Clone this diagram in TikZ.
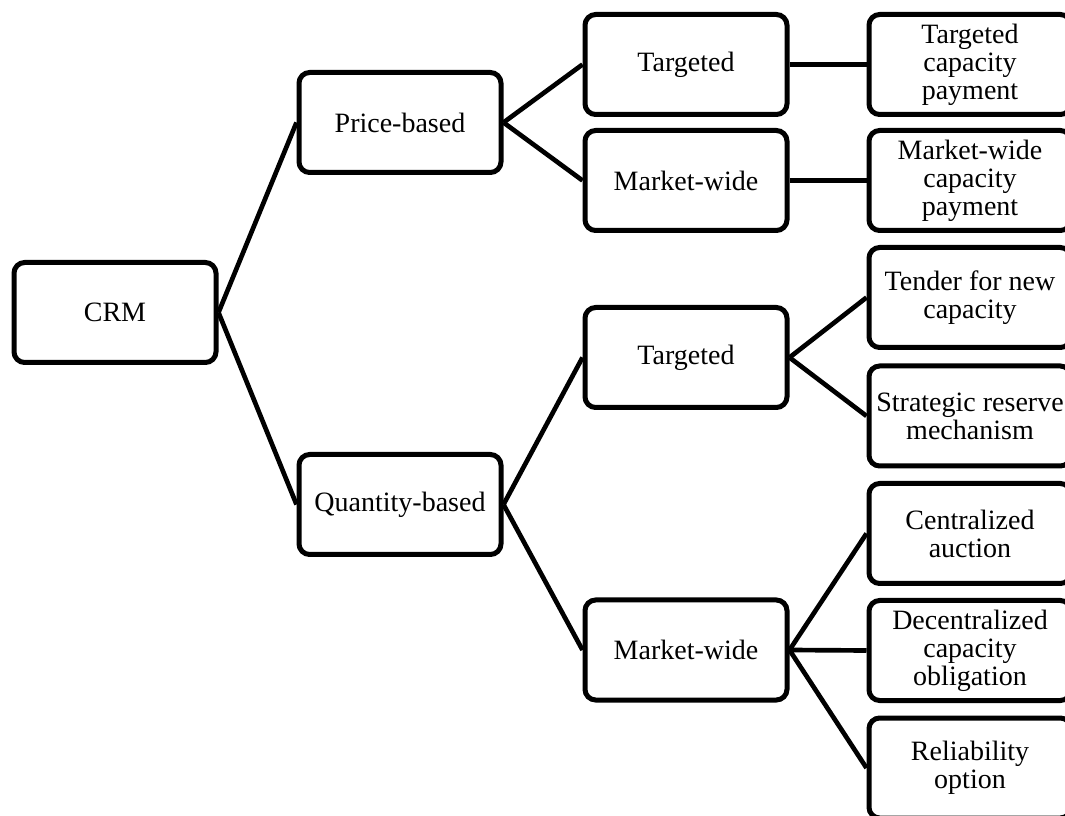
\documentclass[tikz,border=0pt]{standalone}
\usepackage{fontspec}
\setmainfont{Liberation Serif}
\tikzset{
  box/.style={draw=black, line width=3.75pt, rounded corners=8pt, fill=white,
    minimum width=151.5pt, minimum height=75pt, inner sep=2pt,
    align=center, font=\fontsize{21}{21}\selectfont},
  link/.style={draw=black, line width=3.5pt},
}
\begin{document}
\begin{tikzpicture}[x=0.75pt,y=-0.75pt]
\useasboundingbox (0,0) rectangle (1065,816);
\clip (0,0) rectangle (1065,816);
% column 1
\node[box] (crm) at (115,312.5) {CRM};
% column 2
\node[box] (price) at (400,122.5) {Price-based};
\node[box] (qty) at (400,504.5) {Quantity-based};
% column 3
\node[box] (pt) at (686,64.5) {Targeted};
\node[box] (pm) at (686,180.5) {Market-wide};
\node[box] (qt) at (686,357.5) {Targeted};
\node[box] (qm) at (686,650) {Market-wide};
% column 4
\node[box] (tcp) at (970,64.5) {Targeted\\capacity\\payment};
\node[box] (mcp) at (970,180.5) {Market-wide\\capacity\\payment};
\node[box] (tender) at (970,297.5) {Tender for new\\capacity};
\node[box] (strat) at (970,416) {Strategic reserve\\mechanism};
\node[box] (cent) at (970,533.5) {Centralized\\auction};
\node[box] (decent) at (970,650.5) {Decentralized\\capacity\\obligation};
\node[box] (rel) at (970,768) {Reliability\\option};
% connectors
\draw[link] (crm.east) -- (price.west);
\draw[link] (crm.east) -- (qty.west);
\draw[link] (price.east) -- (pt.west);
\draw[link] (price.east) -- (pm.west);
\draw[link] (qty.east) -- (qt.west);
\draw[link] (qty.east) -- (qm.west);
\draw[link] (pt.east) -- (tcp.west);
\draw[link] (pm.east) -- (mcp.west);
\draw[link] (qt.east) -- (tender.west);
\draw[link] (qt.east) -- (strat.west);
\draw[link] (qm.east) -- (cent.west);
\draw[link] (qm.east) -- (decent.west);
\draw[link] (qm.east) -- (rel.west);
\end{tikzpicture}
\end{document}
